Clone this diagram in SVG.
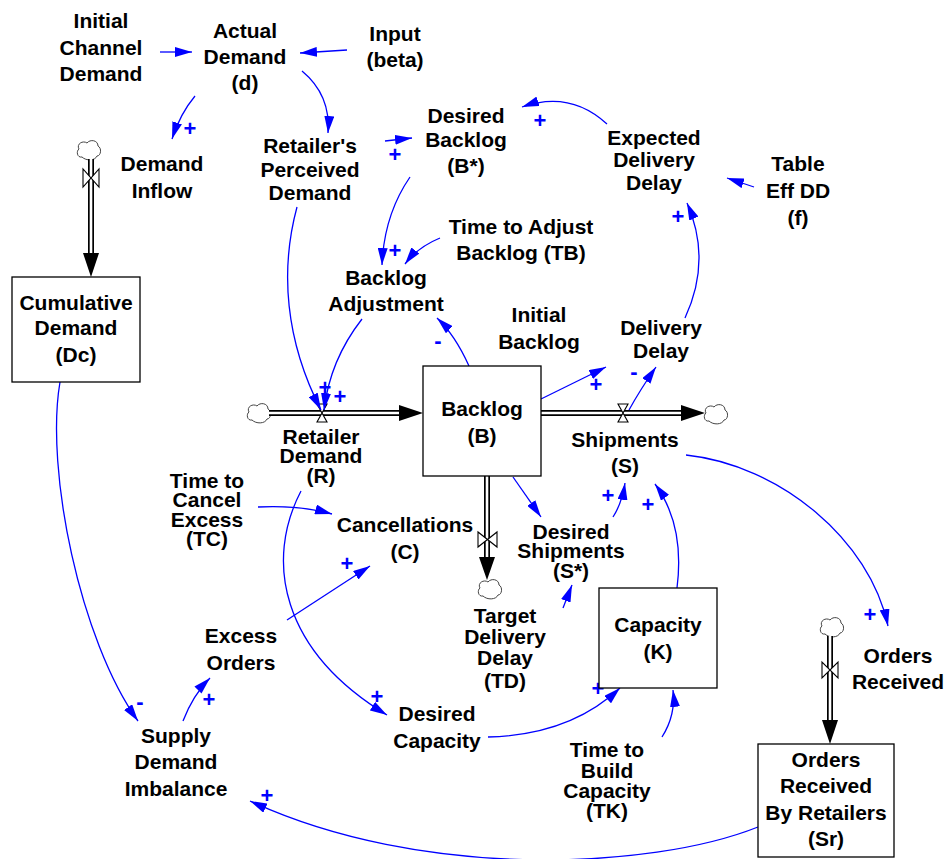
<svg xmlns="http://www.w3.org/2000/svg" width="948" height="859" viewBox="0 0 948 859">
<style>
text{font-family:"Liberation Sans",Arial,sans-serif;font-weight:bold;fill:#000}
.t{font-size:21px;text-anchor:middle}
.p{font-size:22px;text-anchor:middle;fill:#0000FF}
.c{fill:none;stroke:#0000FF;stroke-width:1.3}
.box{fill:#fff;stroke:#000;stroke-width:1.3}
.po{fill:none;stroke:#000;stroke-width:6}
.pi{fill:none;stroke:#fff;stroke-width:2.6}
.ah{fill:#000}
.v{fill:#fff;stroke:#000;stroke-width:1.1}
.cl{fill:#fff;stroke:#444;stroke-width:1}
</style>
<defs>
<marker id="a" markerUnits="userSpaceOnUse" markerWidth="17" markerHeight="10" refX="17" refY="5" orient="auto" viewBox="0 0 17 10">
<path d="M0,0 L17,5 L0,10 Z" fill="#0000FF"/>
</marker>
<path id="cloud" d="M-7,7 C-12,8 -13,1 -10,-1 C-13,-6 -6,-10 -2,-7 C1,-11 9,-10 9,-4 C13,-2 12,6 8,6 C6,11 -3,11 -7,7 Z"/>
</defs>

<g id="flows">
<use href="#cloud" x="89" y="150" class="cl"/>
<path class="po" d="M91,159 L91,254"/><path class="pi" d="M91,159 L91,254"/>
<path class="ah" d="M83,253 L99,253 L91,277 Z"/>
<path class="v" d="M83,169 L83,187 L99,169 L99,187 Z"/>
<use href="#cloud" x="259" y="413" class="cl"/>
<path class="po" d="M269,413 L400,413"/><path class="pi" d="M269,413 L400,413"/>
<path class="ah" d="M399,405 L423,413 L399,421 Z"/>
<path class="v" d="M317,404 L327,404 L317,422 L327,422 Z"/>
<path class="po" d="M541,413 L682,413"/><path class="pi" d="M541,413 L682,413"/>
<path class="ah" d="M681,405 L705,413 L681,421 Z"/>
<use href="#cloud" x="716" y="414" class="cl"/>
<path class="v" d="M618,404 L628,404 L618,422 L628,422 Z"/>
<path class="po" d="M487,476 L487,558"/><path class="pi" d="M487,476 L487,558"/>
<path class="ah" d="M479,557 L495,557 L487,580 Z"/>
<use href="#cloud" x="490" y="589" class="cl"/>
<path class="v" d="M478,532 L478,547 L497,532 L497,547 Z"/>
<use href="#cloud" x="832" y="627" class="cl"/>
<path class="po" d="M830,636 L830,721"/><path class="pi" d="M830,636 L830,721"/>
<path class="ah" d="M822,720 L838,720 L830,744 Z"/>
<path class="v" d="M822,662 L822,678 L838,662 L838,678 Z"/>
</g>

<g id="connectors">
<path class="c" marker-end="url(#a)" d="M160,52 L192,52"/>
<path class="c" marker-end="url(#a)" d="M347,50 L300,53"/>
<path class="c" marker-end="url(#a)" d="M195,96 Q180,114 172,139"/>
<path class="c" marker-end="url(#a)" d="M302,71 Q331,95 328,133"/>
<path class="c" marker-end="url(#a)" d="M385,141 L412,138"/>
<path class="c" marker-end="url(#a)" d="M607,124 Q570,90 522,107"/>
<path class="c" marker-end="url(#a)" d="M754,187 L727,178"/>
<path class="c" marker-end="url(#a)" d="M685,318 Q712,260 687,203"/>
<path class="c" marker-end="url(#a)" d="M410,177 Q384,215 382,265"/>
<path class="c" marker-end="url(#a)" d="M440,238 Q418,247 405,264"/>
<path class="c" marker-end="url(#a)" d="M469,366 Q455,335 437,318"/>
<path class="c" marker-end="url(#a)" d="M362,319 Q330,360 324,410"/>
<path class="c" marker-end="url(#a)" d="M297,207 C280,270 285,340 321,410"/>
<path class="c" marker-end="url(#a)" d="M541,399 L606,367"/>
<path class="c" marker-end="url(#a)" d="M629,410 Q640,390 656,367"/>
<path class="c" marker-end="url(#a)" d="M513,477 L541,517"/>
<path class="c" marker-end="url(#a)" d="M613,517 Q622,503 625,483"/>
<path class="c" marker-end="url(#a)" d="M677,588 Q685,525 655,484"/>
<path class="c" marker-end="url(#a)" d="M686,455 C780,465 870,540 888,626"/>
<path class="c" marker-end="url(#a)" d="M563,608 L572,585"/>
<path class="c" marker-end="url(#a)" d="M488,737 Q570,735 620,688"/>
<path class="c" marker-end="url(#a)" d="M662,737 Q676,715 673,690"/>
<path class="c" marker-end="url(#a)" d="M287,620 L370,566"/>
<path class="c" marker-end="url(#a)" d="M258,507 Q300,505 332,514"/>
<path class="c" marker-end="url(#a)" d="M301,491 C265,560 280,650 387,715"/>
<path class="c" marker-end="url(#a)" d="M60,382 C45,470 80,640 138,721"/>
<path class="c" marker-end="url(#a)" d="M183,721 Q193,695 210,678"/>
<path class="c" marker-end="url(#a)" d="M758,827 C650,870 420,880 250,801"/>
</g>

<g id="polarities">
<text class="p" x="190" y="136">+</text>
<text class="p" x="395" y="162">+</text>
<text class="p" x="540" y="128">+</text>
<text class="p" x="678" y="224">+</text>
<text class="p" x="395" y="258">+</text>
<text class="p" x="438" y="348">-</text>
<text class="p" x="325" y="395">+</text>
<text class="p" x="340" y="404">+</text>
<text class="p" x="596" y="392">+</text>
<text class="p" x="634" y="379">-</text>
<text class="p" x="608" y="503">+</text>
<text class="p" x="648" y="512">+</text>
<text class="p" x="870" y="622">+</text>
<text class="p" x="347" y="571">+</text>
<text class="p" x="377" y="704">+</text>
<text class="p" x="598" y="696">+</text>
<text class="p" x="140" y="709">-</text>
<text class="p" x="209" y="707">+</text>
<text class="p" x="267" y="803">+</text>
</g>

<g id="initial_channel_demand"><text class="t" x="101" y="28">Initial</text><text class="t" x="101" y="55">Channel</text><text class="t" x="101" y="81">Demand</text></g>
<g id="actual_demand"><text class="t" x="245" y="38">Actual</text><text class="t" x="245" y="64">Demand</text><text class="t" x="245" y="90">(d)</text></g>
<g id="input_beta"><text class="t" x="395" y="41">Input</text><text class="t" x="395" y="67">(beta)</text></g>
<g id="demand_inflow"><text class="t" x="162" y="171">Demand</text><text class="t" x="162" y="198">Inflow</text></g>
<g id="retailers_perceived_demand"><text class="t" x="310" y="153">Retailer's</text><text class="t" x="310" y="177">Perceived</text><text class="t" x="310" y="200">Demand</text></g>
<g id="desired_backlog"><text class="t" x="466" y="123">Desired</text><text class="t" x="466" y="147">Backlog</text><text class="t" x="466" y="173">(B*)</text></g>
<g id="expected_delivery_delay"><text class="t" x="654" y="145">Expected</text><text class="t" x="654" y="167">Delivery</text><text class="t" x="654" y="190">Delay</text></g>
<g id="table_eff_dd"><text class="t" x="798" y="171">Table</text><text class="t" x="798" y="198">Eff DD</text><text class="t" x="798" y="225">(f)</text></g>
<g id="time_to_adjust_backlog"><text class="t" x="521" y="234">Time to Adjust</text><text class="t" x="521" y="260">Backlog (TB)</text></g>
<g id="backlog_adjustment"><text class="t" x="386" y="285">Backlog</text><text class="t" x="386" y="311">Adjustment</text></g>
<g id="cumulative_demand"><rect class="box" x="12" y="277" width="128" height="105"/><text class="t" x="76" y="310">Cumulative</text><text class="t" x="76" y="335">Demand</text><text class="t" x="76" y="362">(Dc)</text></g>
<g id="backlog"><rect class="box" x="423" y="366" width="118" height="110"/><text class="t" x="482" y="416">Backlog</text><text class="t" x="482" y="443">(B)</text></g>
<g id="initial_backlog"><text class="t" x="539" y="322">Initial</text><text class="t" x="539" y="349">Backlog</text></g>
<g id="delivery_delay"><text class="t" x="661" y="335">Delivery</text><text class="t" x="661" y="358">Delay</text></g>
<g id="retailer_demand"><text class="t" x="321" y="444">Retailer</text><text class="t" x="321" y="463">Demand</text><text class="t" x="321" y="483">(R)</text></g>
<g id="shipments"><text class="t" x="625" y="447">Shipments</text><text class="t" x="625" y="473">(S)</text></g>
<g id="time_to_cancel_excess"><text class="t" x="207" y="488">Time to</text><text class="t" x="207" y="507">Cancel</text><text class="t" x="207" y="527">Excess</text><text class="t" x="207" y="546">(TC)</text></g>
<g id="cancellations"><text class="t" x="405" y="532">Cancellations</text><text class="t" x="405" y="559">(C)</text></g>
<g id="desired_shipments"><text class="t" x="571" y="539">Desired</text><text class="t" x="571" y="558">Shipments</text><text class="t" x="571" y="578">(S*)</text></g>
<g id="target_delivery_delay"><text class="t" x="505" y="623">Target</text><text class="t" x="505" y="644">Delivery</text><text class="t" x="505" y="665">Delay</text><text class="t" x="505" y="688">(TD)</text></g>
<g id="capacity"><rect class="box" x="599" y="588" width="118" height="100"/><text class="t" x="658" y="632">Capacity</text><text class="t" x="658" y="659">(K)</text></g>
<g id="excess_orders"><text class="t" x="241" y="643">Excess</text><text class="t" x="241" y="670">Orders</text></g>
<g id="orders_received"><text class="t" x="898" y="663">Orders</text><text class="t" x="898" y="689">Received</text></g>
<g id="supply_demand_imbalance"><text class="t" x="176" y="743">Supply</text><text class="t" x="176" y="769">Demand</text><text class="t" x="176" y="796">Imbalance</text></g>
<g id="desired_capacity"><text class="t" x="437" y="721">Desired</text><text class="t" x="437" y="748">Capacity</text></g>
<g id="time_to_build_capacity"><text class="t" x="607" y="757">Time to</text><text class="t" x="607" y="778">Build</text><text class="t" x="607" y="798">Capacity</text><text class="t" x="607" y="818">(TK)</text></g>
<g id="orders_received_by_retailers"><rect class="box" x="758" y="744" width="136" height="113"/><text class="t" x="826" y="767">Orders</text><text class="t" x="826" y="793">Received</text><text class="t" x="826" y="820">By Retailers</text><text class="t" x="826" y="846">(Sr)</text></g>
</svg>
